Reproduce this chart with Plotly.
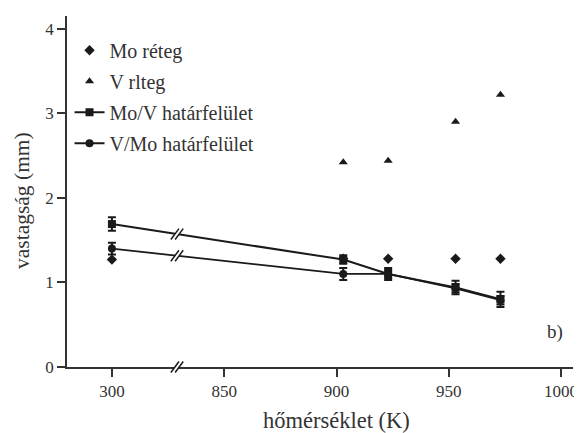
import numpy as np
import plotly.graph_objects as go

# temperatures (K)
temps = [300, 903, 923, 953, 973]
temps_layer = [300, 903, 923, 953, 973]
temps_v = [903, 923, 953, 973]

mo_layer = [1.27, 1.28, 1.28, 1.28, 1.28]
v_layer = [2.42, 2.44, 2.90, 3.22]
mo_v = [1.69, 1.27, 1.10, 0.94, 0.80]
mo_v_err = [0.08, 0.05, 0.07, 0.08, 0.09]
v_mo = [1.40, 1.10, 1.10, 0.93, 0.79]
v_mo_err = [0.07, 0.07, 0.05, 0.05, 0.05]

tick_labels = [300, 850, 900, 950, 1000]

BREAK_LO, BREAK_HI = 300, 850
GAP = 50  # 300 drawn 50 K-units left of 850


def pos(t):
    t = np.asarray(t, dtype=float)
    return np.where(t >= BREAK_HI, t, BREAK_HI - GAP + (t - BREAK_LO))


ink = '#1a1a1a'
txt = '#333333'
font = 'Liberation Serif'

fig = go.Figure()
fig.add_trace(go.Scatter(x=pos(temps_layer), y=mo_layer, mode='markers', name='Mo réteg',
                         marker=dict(symbol='diamond', size=8, color=ink), legendgroup='a'))
fig.add_trace(go.Scatter(x=pos(temps_v), y=v_layer, mode='markers', name='V rlteg',
                         marker=dict(symbol='triangle-up', size=8, color=ink), legendgroup='b'))
fig.add_trace(go.Scatter(x=pos(temps), y=mo_v, mode='lines+markers', name='Mo/V határfelület',
                         marker=dict(symbol='square', size=8, color=ink), line=dict(color=ink, width=2),
                         error_y=dict(type='data', array=mo_v_err, color=ink, thickness=2, width=4),
                         legendgroup='c'))
fig.add_trace(go.Scatter(x=pos(temps), y=v_mo, mode='lines+markers', name='V/Mo határfelület',
                         marker=dict(symbol='circle', size=8, color=ink), line=dict(color=ink, width=1.8),
                         error_y=dict(type='data', array=v_mo_err, color=ink, thickness=2, width=4),
                         legendgroup='d'))

# break marks
xb = 829.0
dx, dy, gap = 1.8, 0.065, 1.9
shapes = []


def slash_pair(yc, yref):
    s = []
    x1, x2 = xb - gap / 2, xb + gap / 2
    s.append(dict(type='path', xref='x', yref=yref, layer='above',
                  path=f'M {x1-dx},{yc-dy} L {x1+dx},{yc+dy} L {x2+dx},{yc+dy} L {x2-dx},{yc-dy} Z',
                  fillcolor='white', line=dict(width=0)))
    for xx in (x1, x2):
        s.append(dict(type='line', xref='x', yref=yref, layer='above',
                      x0=xx - dx, y0=yc - dy, x1=xx + dx, y1=yc + dy, line=dict(color=ink, width=1.5)))
    return s


for series in (mo_v, v_mo):
    yc = float(np.interp(xb, pos(temps[:2]), series[:2]))
    shapes += slash_pair(yc, 'y')

ypad = dy / 4.15
x1, x2 = xb - gap / 2, xb + gap / 2
shapes.append(dict(type='path', xref='x', yref='paper', layer='above',
                   path=f'M {x1-dx},{-ypad} L {x1+dx},{ypad} L {x2+dx},{ypad} L {x2-dx},{-ypad} Z',
                   fillcolor='white', line=dict(width=0)))
for xx in (x1, x2):
    shapes.append(dict(type='line', xref='x', yref='paper', layer='above',
                       x0=xx - dx, y0=-ypad, x1=xx + dx, y1=ypad, line=dict(color=ink, width=1.5)))

# the page body adds an 8px offset, so the figure is sized to fit inside it
fig.update_layout(
    width=574, height=425,
    margin=dict(l=59, r=9, t=8, b=66),
    paper_bgcolor='white', plot_bgcolor='white',
    font=dict(family=font, size=17, color=txt),
    showlegend=True,
    legend=dict(x=0.005, y=0.958, xanchor='left', yanchor='top', bgcolor='rgba(0,0,0,0)',
                font=dict(size=20, color=txt), tracegroupgap=2),
    xaxis=dict(range=[780, 1005.3], showline=True, linecolor=txt, linewidth=1.5,
               ticks='outside', ticklen=8, tickcolor=txt, tickwidth=1.5,
               tickvals=pos(tick_labels), ticktext=[str(t) for t in tick_labels],
               showgrid=False, zeroline=False, automargin=False),
    yaxis=dict(range=[0, 4.15], showline=True, linecolor=txt, linewidth=1.5,
               ticks='outside', ticklen=8, tickcolor=txt, tickwidth=1.5,
               tickvals=[0, 1, 2, 3, 4], showgrid=False, zeroline=False, automargin=False),
    shapes=shapes,
    annotations=[
        dict(text='b)', x=0.985, y=0.1, xref='paper', yref='paper',
             xanchor='right', yanchor='middle', showarrow=False, font=dict(size=19, color=txt)),
        dict(text='hőmérséklet (K)', x=0.532, y=0, xref='paper', yref='paper', yshift=-53,
             xanchor='center', yanchor='middle', showarrow=False, font=dict(size=22.5, color=txt)),
        dict(text='vastagság (mm)', x=0, y=0.473, xref='paper', yref='paper', xshift=-45,
             xanchor='center', yanchor='middle', textangle=-90, showarrow=False,
             font=dict(size=21.5, color=txt)),
    ],
)

fig.write_html("out.html")
